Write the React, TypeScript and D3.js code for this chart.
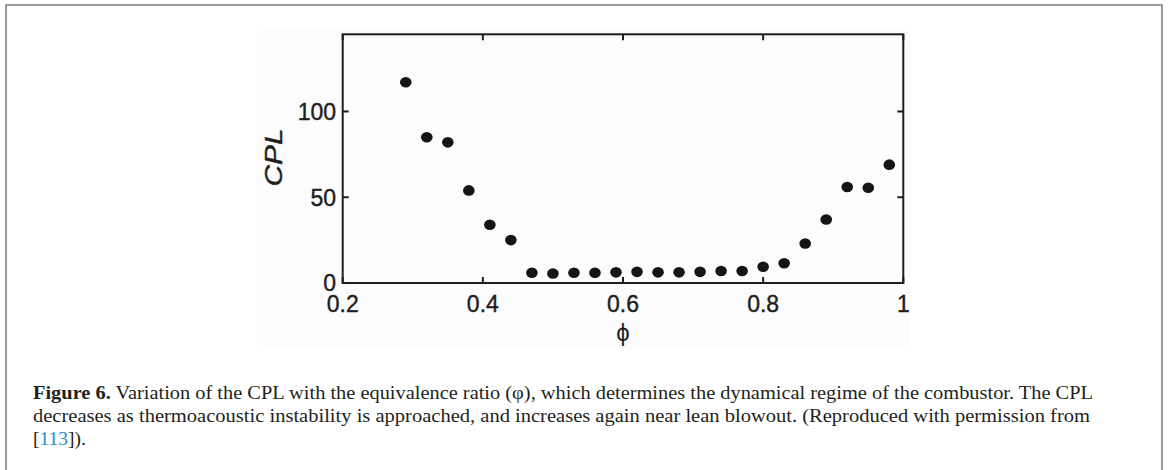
import React from "react";
import * as d3 from "d3";

const phi = [0.29, 0.32, 0.35, 0.38, 0.41, 0.44, 0.47, 0.5, 0.53, 0.56, 0.59, 0.62, 0.65, 0.68, 0.71, 0.74, 0.77, 0.8, 0.83, 0.86, 0.89, 0.92, 0.95, 0.98];
const cpl = [117, 85, 82, 54, 34, 25, 6, 5.5, 6, 6, 6.2, 6.5, 6.2, 6.2, 6.5, 7, 7, 9.5, 11.5, 23, 37, 56, 55.5, 69];
const xTicks = [0.2, 0.4, 0.6, 0.8, 1];
const xTickLabels = ["0.2", "0.4", "0.6", "0.8", "1"];
const yTicks = [0, 50, 100];
const yTickLabels = ["0", "50", "100"];

const captionLine1Bold = "Figure 6.";
const captionLine1 = " Variation of the CPL with the equivalence ratio (\u03C6), which determines the dynamical regime of the combustor. The CPL";
const captionLine2 = "decreases as thermoacoustic instability is approached, and increases again near lean blowout. (Reproduced with permission from";
const captionRef = "113";

export default function App() {
  const x = d3.scaleLinear().domain([0.2, 1]).range([342.7, 903.3]);
  const y = d3.scaleLinear().domain([0, 145]).range([283, 34.3]);
  const [x0, x1] = x.range();
  const [yb, yt] = y.range();
  const sans = "'Liberation Sans', Arial, Helvetica, sans-serif";
  const serif = "'Liberation Serif', 'Times New Roman', serif";
  const tickLen = 6;
  const ink = "#1e1e1e";
  return (
    <svg width={1168} height={470} style={{ position: "absolute", left: 0, top: 0, background: "#fff" }}>
      <rect x={6} y={5} width={1156} height={480} fill="#fff" stroke="#9a9a9a" strokeWidth={2} />
      <rect x={257} y={30} width={653} height={320} fill="#fcfcfc" />
      {/* frame */}
      <rect x={x0} y={yt} width={x1 - x0} height={yb - yt} fill="none" stroke={ink} strokeWidth={2} />
      {/* x ticks */}
      {xTicks.map((t, i) => (
        <g key={"xt" + i}>
          <line x1={x(t)} x2={x(t)} y1={yb} y2={yb - tickLen} stroke={ink} strokeWidth={2} />
          <line x1={x(t)} x2={x(t)} y1={yt} y2={yt + tickLen} stroke={ink} strokeWidth={2} />
          <text x={x(t)} y={312} textAnchor="middle" fontFamily={sans} fontSize={23} fill={ink} stroke={ink} strokeWidth={0.4}>
            {xTickLabels[i]}
          </text>
        </g>
      ))}
      {/* y ticks */}
      {yTicks.map((t, i) => (
        <g key={"yt" + i}>
          <line x1={x0} x2={x0 + tickLen} y1={y(t)} y2={y(t)} stroke={ink} strokeWidth={2} />
          <line x1={x1} x2={x1 - tickLen} y1={y(t)} y2={y(t)} stroke={ink} strokeWidth={2} />
          <text x={336} y={y(t) + 8.3} textAnchor="end" fontFamily={sans} fontSize={23} fill={ink} stroke={ink} strokeWidth={0.4}>
            {yTickLabels[i]}
          </text>
        </g>
      ))}
      {/* axis labels */}
      <text x={0} y={0} transform={`translate(282,157.5) rotate(-90)`} textAnchor="middle" fontFamily={sans} fontStyle="italic" fontSize={24} fill={ink} stroke={ink} strokeWidth={0.4} textLength={58} lengthAdjust="spacingAndGlyphs">
        CPL
      </text>
      <text x={623} y={341} textAnchor="middle" fontFamily={sans} fontSize={24} fill={ink}>
        {"\u03D5"}
      </text>
      {/* points */}
      {phi.map((p, i) => (
        <ellipse key={"pt" + i} cx={x(p)} cy={y(cpl[i])} rx={5.8} ry={5.3} fill="#151515" />
      ))}
      {/* caption */}
      <text x={33} y={399} fontFamily={serif} fontSize={19.5} fill="#231f20" textLength={1060} lengthAdjust="spacingAndGlyphs">
        <tspan fontWeight="bold">{captionLine1Bold}</tspan>
        <tspan>{captionLine1}</tspan>
      </text>
      <text x={33} y={422} fontFamily={serif} fontSize={19.5} fill="#231f20" textLength={1057} lengthAdjust="spacingAndGlyphs">
        {captionLine2}
      </text>
      <text x={33} y={445} fontFamily={serif} fontSize={19.5} fill="#231f20">
        <tspan>[</tspan>
        <tspan fill="#2a8dc8">{captionRef}</tspan>
        <tspan>]).</tspan>
      </text>
    </svg>
  );
}
